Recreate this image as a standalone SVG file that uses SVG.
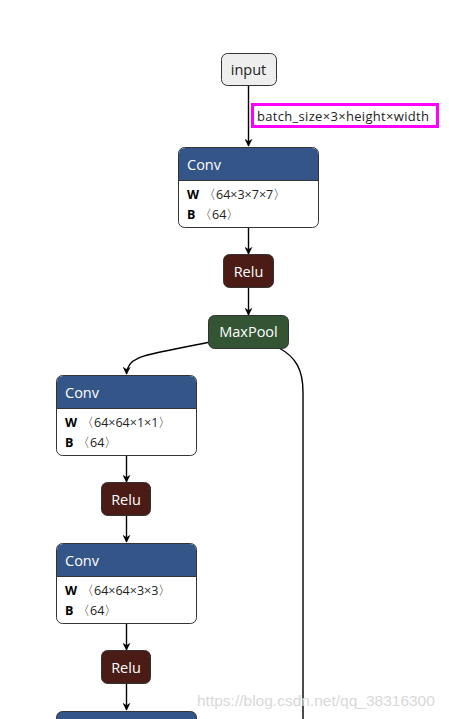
<svg xmlns="http://www.w3.org/2000/svg" width="449" height="719" viewBox="0 0 449 719">
<style>
text{font-family:"Segoe UI","Open Sans","Liberation Sans",sans-serif}
.nd{stroke:#333;stroke-width:1}
.t{font-size:14.5px;fill:#fff}
.a{font-size:12.5px;fill:#222}
.ab{font-size:12.5px;fill:#000;font-weight:bold}
.e{fill:none;stroke:#000;stroke-width:1.4}
.hd{fill:#335588}
.relu{fill:#4b1b16}
</style>
<defs>
<marker id="ar" viewBox="0 0 10 10" refX="9" refY="5" markerWidth="8" markerHeight="8" markerUnits="userSpaceOnUse" orient="auto">
<path d="M0,0 L10,5 L0,10 L3,5 z" fill="#000"/>
</marker>
</defs>
<rect width="449" height="719" fill="#fff"/>
<g id="edges">
<path class="e" d="M248.5,85 L248.5,146" marker-end="url(#ar)"/>
<path class="e" d="M248.5,227 L248.5,254" marker-end="url(#ar)"/>
<path class="e" d="M248.5,288 L248.5,315" marker-end="url(#ar)"/>
<path class="e" d="M210,342 C150,355 127,354 126.5,374" marker-end="url(#ar)"/>
<path class="e" d="M279,348 C296,357 303,370 303,392 L303,719"/>
<path class="e" d="M126.5,455 L126.5,482" marker-end="url(#ar)"/>
<path class="e" d="M126.5,515 L126.5,542" marker-end="url(#ar)"/>
<path class="e" d="M126.5,623 L126.5,650" marker-end="url(#ar)"/>
<path class="e" d="M126.5,683 L126.5,710" marker-end="url(#ar)"/>
<rect x="252.5" y="104.5" width="185" height="22" fill="#fff" stroke="#f0f" stroke-width="3"/>
<text x="257" y="121" class="a" style="font-size:13px" textLength="172">batch_size×3×height×width</text>
</g>
<g id="input">
<rect class="nd" x="221.5" y="53.5" width="55" height="32" rx="6" fill="#eee"/>
<text x="248.5" y="75" style="font-size:14.5px;fill:#222" text-anchor="middle">input</text>
</g>
<g id="conv1">
<rect class="nd" x="178.5" y="147.5" width="140" height="80" rx="6" fill="#fff"/>
<path class="hd" d="M179,180 L179,154 Q179,148 185,148 L312,148 Q318,148 318,154 L318,180 Z"/>
<line x1="179" y1="180.5" x2="318" y2="180.5" stroke="#333"/>
<text x="187" y="169.5" class="t">Conv</text>
<text x="187" y="198.5" class="ab">W</text><text x="203" y="198.5" class="a">〈64×3×7×7〉</text>
<text x="187" y="218.5" class="ab">B</text><text x="199" y="218.5" class="a">〈64〉</text>
</g>
<g id="relu1">
<rect class="nd relu" x="223.5" y="254.5" width="50" height="33" rx="6"/>
<text x="248.5" y="276.5" class="t" text-anchor="middle">Relu</text>
</g>
<g id="maxpool">
<rect class="nd" x="208.5" y="315.5" width="80" height="33" rx="6" fill="#335533"/>
<text x="248.5" y="337" class="t" text-anchor="middle">MaxPool</text>
</g>
<g id="conv2">
<rect class="nd" x="56.5" y="375.5" width="140" height="80" rx="6" fill="#fff"/>
<path class="hd" d="M57,408 L57,382 Q57,376 63,376 L190,376 Q196,376 196,382 L196,408 Z"/>
<line x1="57" y1="408.5" x2="196" y2="408.5" stroke="#333"/>
<text x="65" y="397.5" class="t">Conv</text>
<text x="65" y="426.5" class="ab">W</text><text x="81" y="426.5" class="a">〈64×64×1×1〉</text>
<text x="65" y="446.5" class="ab">B</text><text x="77" y="446.5" class="a">〈64〉</text>
</g>
<g id="relu2">
<rect class="nd relu" x="101.5" y="482.5" width="49" height="33" rx="6"/>
<text x="126" y="504.5" class="t" text-anchor="middle">Relu</text>
</g>
<g id="conv3">
<rect class="nd" x="56.5" y="543.5" width="140" height="80" rx="6" fill="#fff"/>
<path class="hd" d="M57,576 L57,550 Q57,544 63,544 L190,544 Q196,544 196,550 L196,576 Z"/>
<line x1="57" y1="576.5" x2="196" y2="576.5" stroke="#333"/>
<text x="65" y="565.5" class="t">Conv</text>
<text x="65" y="594.5" class="ab">W</text><text x="81" y="594.5" class="a">〈64×64×3×3〉</text>
<text x="65" y="614.5" class="ab">B</text><text x="77" y="614.5" class="a">〈64〉</text>
</g>
<g id="relu3">
<rect class="nd relu" x="101.5" y="650.5" width="49" height="33" rx="6"/>
<text x="126" y="672.5" class="t" text-anchor="middle">Relu</text>
</g>
<g id="conv4">
<rect class="nd" x="56.5" y="711.5" width="140" height="80" rx="6" fill="#335588"/>
</g>
<text x="197" y="706" style="font-family:'Liberation Sans',Arial,sans-serif;font-size:15.5px;fill:#d8d8d8">https://blog.csdn.net/qq_38316300</text>
</svg>
